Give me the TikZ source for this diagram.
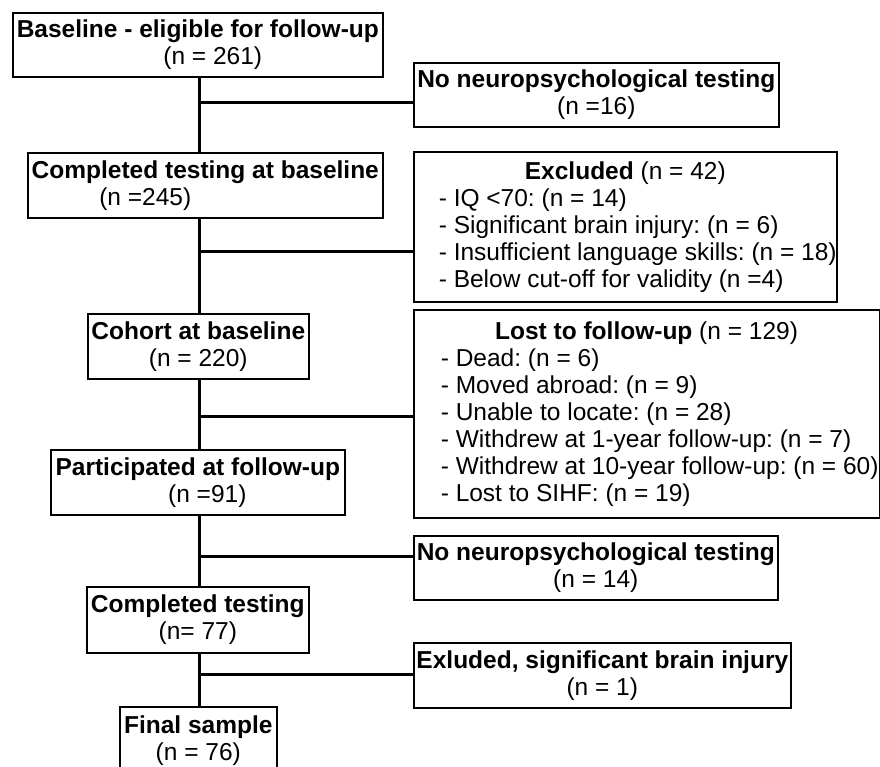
\documentclass[tikz,border=0pt]{standalone}
\usepackage{fontspec}
\setmainfont{Liberation Sans}
\frenchspacing
\newcommand{\exline}[1]{\makebox[423pt][l]{\hspace*{25pt}#1}}
\newcommand{\lostline}[1]{\makebox[465.5pt][l]{\hspace*{27pt}#1}}
\begin{document}
\begin{tikzpicture}[x=1pt,y=-1pt,
  box/.style={draw=black, line width=1.6pt, inner sep=0pt, anchor=north west, align=center,
    font=\fontsize{24.5}{27}\selectfont\frenchspacing},
  listbox/.style={draw=black, line width=1.6pt, inner sep=0pt, anchor=north west, align=left,
    font=\fontsize{24.5}{27}\selectfont\frenchspacing},
  link/.style={draw=black, line width=3pt}]
\useasboundingbox (0,0) rectangle (880,766);

% main column
\node[box, minimum width=370pt, minimum height=64pt] (b1) at (12,12)
  {\textbf{Baseline - eligible for follow-up}\\\hspace*{30pt}(n = 261)};
\node[box, minimum width=355pt, minimum height=65pt] (b2) at (27,152)
  {\textbf{Completed testing at baseline}\\\hspace*{-120pt}(n =245)};
\node[box, minimum width=221pt, minimum height=65pt] (coh) at (87,313)
  {\textbf{Cohort at baseline}\\(n = 220)};
\node[box, minimum width=294pt, minimum height=65pt] (part) at (50,449)
  {\textbf{Participated at follow-up}\\\hspace*{19pt}(n =91)};
\node[box, minimum width=222pt, minimum height=66pt] (comp) at (86,586)
  {\textbf{Completed testing}\\(n= 77)};
\node[box, minimum width=157pt, minimum height=68pt] (fin) at (119,706)
  {\textbf{Final sample}\\(n = 76)};

% side boxes
\node[box, minimum width=365pt, minimum height=64pt] (nn1) at (413,62)
  {\textbf{No neuropsychological testing}\\(n =16)};
\node[listbox, minimum width=423pt, minimum height=150pt] (ex) at (413,151)
  {\makebox[423pt][c]{\textbf{Excluded} (n = 42)}\\
   \exline{- IQ <70: (n = 14)}\\
   \exline{- Significant brain injury: (n = 6)}\\
   \exline{- Insufficient language skills: (n = 18)}\\
   \exline{- Below cut-off for validity (n =4)}};
\node[listbox, minimum width=465.5pt, minimum height=208pt] (lost) at (413,309)
  {\makebox[465.5pt][c]{\textbf{Lost to follow-up} (n = 129)}\\
   \lostline{- Dead: (n = 6)}\\
   \lostline{- Moved abroad: (n = 9)}\\
   \lostline{- Unable to locate: (n = 28)}\\
   \lostline{- Withdrew at 1-year follow-up: (n = 7)}\\
   \lostline{- Withdrew at 10-year follow-up: (n = 60)}\\
   \lostline{- Lost to SIHF: (n = 19)}};
\node[box, minimum width=364pt, minimum height=64pt] (nn2) at (413,535)
  {\textbf{No neuropsychological testing}\\(n = 14)};
\node[box, minimum width=377pt, minimum height=65pt] (exl) at (413,642)
  {\textbf{Exluded, significant brain injury}\\(n = 1)};

% trunk
\coordinate (tx) at (199,0);
\draw[link] (b1.south -| tx) -- (b2.north -| tx);
\draw[link] (b2.south -| tx) -- (coh.north -| tx);
\draw[link] (coh.south -| tx) -- (part.north -| tx);
\draw[link] (part.south -| tx) -- (comp.north -| tx);
\draw[link] (comp.south -| tx) -- (fin.north -| tx);

% branches
\coordinate (j1) at (199,102);
\coordinate (j2) at (199,251);
\coordinate (j3) at (199,416);
\coordinate (j4) at (199,556);
\coordinate (j5) at (199,674);
\draw[link] (j1) -- (j1 -| nn1.west);
\draw[link] (j2) -- (j2 -| ex.west);
\draw[link] (j3) -- (j3 -| lost.west);
\draw[link] (j4) -- (j4 -| nn2.west);
\draw[link] (j5) -- (j5 -| exl.west);
\end{tikzpicture}
\end{document}
